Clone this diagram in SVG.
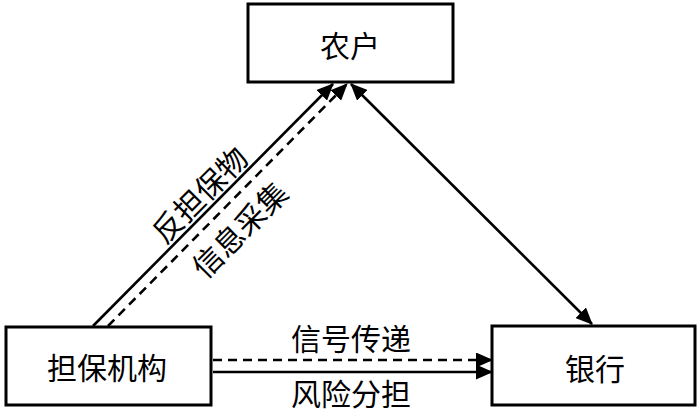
<svg xmlns="http://www.w3.org/2000/svg" width="700" height="413" viewBox="0 0 700 413">
<style>
.box{fill:#fff;stroke:#000;stroke-width:3}
.t{font-family:"Noto Sans CJK SC","Noto Sans",sans-serif;font-size:30px;fill:#000;text-anchor:middle}
.ln{stroke:#000;stroke-width:2.6;fill:none}
.dash{stroke-dasharray:9,6}
</style>
<defs>
<marker id="ah" markerUnits="userSpaceOnUse" markerWidth="17" markerHeight="15" viewBox="0 0 17 15" refX="16" refY="7.5" orient="auto">
<path d="M0,0 L17,7.5 L0,15 Z" fill="#000"/>
</marker>
<marker id="ahs" markerUnits="userSpaceOnUse" markerWidth="17" markerHeight="15" viewBox="0 0 17 15" refX="1" refY="7.5" orient="auto">
<path d="M17,0 L0,7.5 L17,15 Z" fill="#000"/>
</marker>
</defs>
<g id="connectors">
<line class="ln" x1="93" y1="326" x2="333" y2="84" marker-end="url(#ah)"/>
<line class="ln dash" x1="108" y1="326" x2="347" y2="84" marker-end="url(#ah)"/>
<line class="ln" x1="351" y1="84" x2="592" y2="324" marker-start="url(#ahs)" marker-end="url(#ah)"/>
<line class="ln dash" x1="213" y1="360" x2="492" y2="360" marker-end="url(#ah)"/>
<line class="ln" x1="213" y1="372" x2="492" y2="372" marker-end="url(#ah)"/>
<text class="t" transform="translate(200,195) rotate(-45)" y="11">反担保物</text>
<text class="t" transform="translate(240,230) rotate(-45)" y="11">信息采集</text>
<text class="t" x="351" y="350">信号传递</text>
<text class="t" x="351" y="405">风险分担</text>
</g>
<g id="nonghu">
<rect class="box" x="248" y="4" width="205" height="78"/>
<text class="t" x="350" y="57">农户</text>
</g>
<g id="danbao">
<rect class="box" x="6" y="327" width="205" height="78"/>
<text class="t" x="107" y="379">担保机构</text>
</g>
<g id="yinhang">
<rect class="box" x="492" y="326" width="203" height="79"/>
<text class="t" x="595" y="380">银行</text>
</g>
</svg>
